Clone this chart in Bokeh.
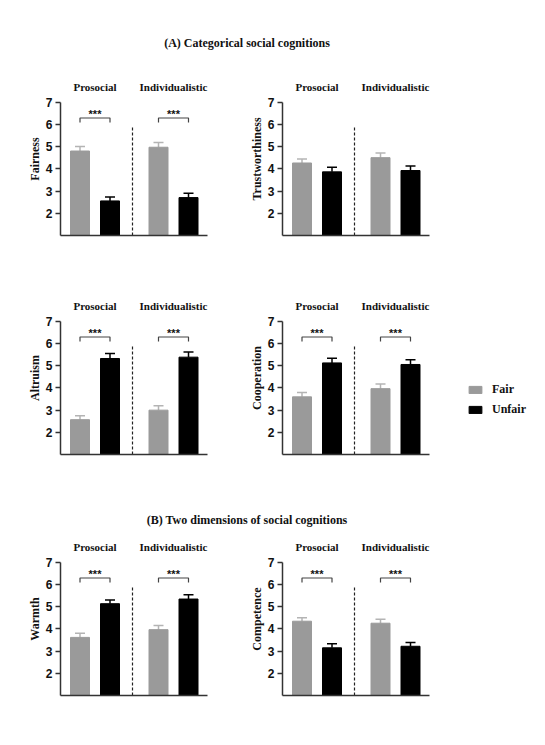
from bokeh.plotting import figure
from bokeh.models import (Range1d, FixedTicker, Whisker, TeeHead, ColumnDataSource,
                          Legend, LegendItem, Div)
from bokeh.layouts import column, row
from bokeh.core.properties import value
from bokeh.embed import file_html
from bokeh.resources import INLINE

# ---------------- data ----------------
groups = ["Prosocial", "Individualistic"]
conditions = ["Fair", "Unfair"]

fairness_fair = [4.81, 4.98]
fairness_unfair = [2.56, 2.71]
fairness_fair_se = [0.20, 0.21]
fairness_unfair_se = [0.18, 0.19]

trust_fair = [4.27, 4.51]
trust_unfair = [3.87, 3.93]
trust_fair_se = [0.18, 0.21]
trust_unfair_se = [0.21, 0.20]

altruism_fair = [2.57, 3.00]
altruism_unfair = [5.33, 5.39]
altruism_fair_se = [0.18, 0.20]
altruism_unfair_se = [0.22, 0.23]

coop_fair = [3.60, 3.97]
coop_unfair = [5.13, 5.06]
coop_fair_se = [0.20, 0.21]
coop_unfair_se = [0.21, 0.21]

warmth_fair = [3.62, 3.97]
warmth_unfair = [5.14, 5.35]
warmth_fair_se = [0.19, 0.19]
warmth_unfair_se = [0.17, 0.19]

comp_fair = [4.35, 4.26]
comp_unfair = [3.15, 3.22]
comp_fair_se = [0.16, 0.18]
comp_unfair_se = [0.18, 0.17]

y_ticks = [2, 3, 4, 5, 6, 7]
sig_label = "***"

# ---------------- style ----------------
SERIF = "Liberation Serif"
SANS = "Liberation Sans"
FAIR_C = "#9a9a9a"
FAIR_ERR_C = "#b4b4b4"
UNFAIR_C = "#000000"
AXIS_C = "#333333"
PX_PER_UNIT = 20.0
GROUP_CENTERS = [1.725, 5.65]
OFFSET = 0.75
BAR_W = 0.95
DIVIDER_X = 3.6


def make_panel(ylabel, fair, unfair, fair_se, unfair_se, sig, right,
               border_top, border_bottom, legend=False):
    if right:
        width, left_b, frame_w = 310, 52, 258
    else:
        width, left_b, frame_w = 230, 60, 170
    height = border_top + 153 + border_bottom
    p = figure(width=width, height=height,
               x_range=Range1d(0, frame_w / PX_PER_UNIT), y_range=Range1d(1, 7.9),
               output_backend="svg", toolbar_location=None,
               min_border_left=left_b, min_border_right=width - left_b - frame_w,
               min_border_top=border_top, min_border_bottom=border_bottom)
    p.outline_line_color = None
    p.grid.visible = False
    p.background_fill_color = None
    p.border_fill_color = None

    fair_x = [g - OFFSET for g in GROUP_CENTERS]
    unfair_x = [g + OFFSET for g in GROUP_CENTERS]

    r_fair = p.vbar(x=fair_x, top=fair, bottom=1, width=BAR_W,
                    fill_color=FAIR_C, line_color=FAIR_C)
    r_unfair = p.vbar(x=unfair_x, top=unfair, bottom=1, width=BAR_W,
                      fill_color=UNFAIR_C, line_color=UNFAIR_C)

    for xs, vals, se, col in ((fair_x, fair, fair_se, FAIR_ERR_C),
                              (unfair_x, unfair, unfair_se, UNFAIR_C)):
        src = ColumnDataSource(dict(x=xs, lower=vals,
                                    upper=[v + e for v, e in zip(vals, se)]))
        w = Whisker(source=src, base="x", lower="lower", upper="upper",
                    line_color=col, line_width=1.5, lower_head=None,
                    upper_head=TeeHead(size=10, line_color=col, line_width=1.5))
        p.add_layout(w)

    # divider
    p.segment(x0=[DIVIDER_X], y0=[1], x1=[DIVIDER_X], y1=[5.9],
              line_color="#222222", line_width=1.2, line_dash="3 2")

    # group labels
    p.text(x=GROUP_CENTERS, y=[7.7, 7.7], text=groups,
           text_font=value(SERIF), text_font_style="bold", text_font_size="11px",
           text_align="center", text_baseline="middle", text_color="#111111")

    if sig:
        for i in range(len(groups)):
            p.line([fair_x[i], fair_x[i], unfair_x[i], unfair_x[i]],
                   [6.1, 6.3, 6.3, 6.1], line_color="#444444", line_width=1.2)
        p.text(x=GROUP_CENTERS, y=[6.5, 6.5], text=[sig_label] * 2,
               text_font=value(SANS), text_font_style="bold", text_font_size="11px",
               text_align="center", text_baseline="middle", text_color="#111111")

    # axes
    yax = p.yaxis[0]
    yax.ticker = FixedTicker(ticks=y_ticks)
    yax.bounds = (1, 7)
    yax.axis_label = ylabel
    yax.axis_label_text_font = SERIF
    yax.axis_label_text_font_style = "bold"
    yax.axis_label_text_font_size = "12px"
    yax.axis_label_text_color = "#111111"
    yax.axis_label_standoff = 1
    yax.major_label_text_font = SANS
    yax.major_label_text_font_style = "bold"
    yax.major_label_text_font_size = "12px"
    yax.major_label_text_color = "#111111"
    yax.major_label_standoff = 3
    yax.axis_line_color = AXIS_C
    yax.axis_line_width = 1.5
    yax.major_tick_line_color = AXIS_C
    yax.major_tick_line_width = 1.5
    yax.major_tick_out = 5
    yax.major_tick_in = 0
    yax.minor_tick_line_color = None

    xax = p.xaxis[0]
    xax.ticker = FixedTicker(ticks=[])
    xax.bounds = (0, 7.35)
    xax.axis_line_color = AXIS_C
    xax.axis_line_width = 1.5
    xax.major_tick_line_color = None
    xax.minor_tick_line_color = None
    xax.major_label_text_font_size = "0px"

    if legend:
        lg = Legend(items=[LegendItem(label=conditions[0], renderers=[r_fair]),
                           LegendItem(label=conditions[1], renderers=[r_unfair])],
                    location=(185, 37), orientation="vertical",
                    glyph_width=16, glyph_height=9, label_standoff=9,
                    label_height=12, spacing=5, padding=0, margin=0,
                    border_line_color=None, background_fill_alpha=0,
                    label_text_font=SERIF, label_text_font_style="bold",
                    label_text_font_size="12px", label_text_color="#111111")
        p.add_layout(lg)
    return p


title_style = {"font-family": SERIF, "font-size": "12px", "font-weight": "bold",
               "text-align": "center", "color": "#111111"}
title_a = Div(text="(A) Categorical social cognitions", width=494, height=62,
              margin=0, styles=dict(title_style, **{"line-height": "86px"}))
title_b = Div(text="(B) Two dimensions of social cognitions", width=494, height=60,
              margin=0, styles=dict(title_style, **{"line-height": "92px"}))

p1 = make_panel("Fairness", fairness_fair, fairness_unfair, fairness_fair_se,
                fairness_unfair_se, True, False, 20, 46)
p2 = make_panel("Trustworthiness", trust_fair, trust_unfair, trust_fair_se,
                trust_unfair_se, False, True, 20, 46)
p3 = make_panel("Altruism", altruism_fair, altruism_unfair, altruism_fair_se,
                altruism_unfair_se, True, False, 20, 20)
p4 = make_panel("Cooperation", coop_fair, coop_unfair, coop_fair_se,
                coop_unfair_se, True, True, 20, 20, legend=True)
p5 = make_panel("Warmth", warmth_fair, warmth_unfair, warmth_fair_se,
                warmth_unfair_se, True, False, 8, 20)
p6 = make_panel("Competence", comp_fair, comp_unfair, comp_fair_se,
                comp_unfair_se, True, True, 8, 20)

layout = column(title_a, row(p1, p2), row(p3, p4), title_b, row(p5, p6))

open("out.html", "w").write(file_html(layout, INLINE))
